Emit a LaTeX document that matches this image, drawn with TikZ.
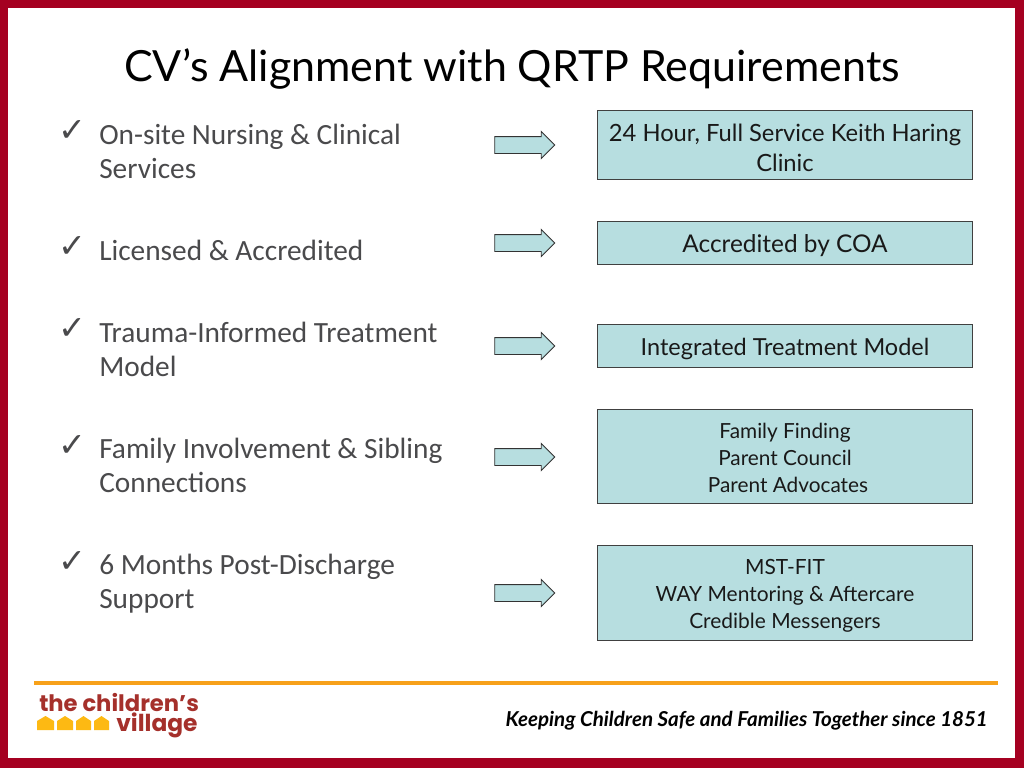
\documentclass[tikz,border=0pt]{standalone}
\usepackage{fontspec}
\setmainfont{Lato}
\newfontfamily\bulletfont{Carlito}
\newfontfamily\markfont{DejaVu Sans}
\newfontfamily\logofont{Poppins}
\usetikzlibrary{shapes.arrows}
\definecolor{framered}{HTML}{A50021}
\definecolor{boxteal}{HTML}{B7DEE0}
\definecolor{rulegold}{HTML}{F7A11A}
\definecolor{logobrown}{HTML}{A5302B}
\definecolor{logogold}{HTML}{FDB913}
\definecolor{bulletgrey}{HTML}{4A4A4C}
\tikzset{
  reqtext/.style={anchor=west,align=left,inner sep=0pt,text=bulletgrey,font=\bulletfont\fontsize{22}{25.6}\selectfont},
  tick/.style={anchor=center,inner sep=0pt,text=bulletgrey,font=\markfont\fontsize{25}{25}\selectfont},
  answerbox/.style={draw=black!75,line width=.7pt,fill=boxteal,minimum width=281.25pt,inner sep=0pt,align=center,text=black!90},
  blockarrow/.style={draw=black!80,line width=.7pt,fill=boxteal,single arrow,single arrow head extend=3.75pt,minimum width=19.5pt,minimum height=45pt,inner xsep=0pt,inner ysep=6pt,single arrow tip angle=90},
  house/.style={fill=logogold,draw=none}
}
\begin{document}
\begin{tikzpicture}[x=.75pt,y=-.75pt]
  \useasboundingbox (0,0) rectangle (1024,768);
  \fill[framered] (0,0) rectangle (1024,768);
  \fill[white] (8,8) rectangle (1015,758);
  \node[anchor=center,inner sep=0pt,font=\fontsize{32.2}{36}\selectfont] (title) at (512,69) {CV’s Alignment with QRTP Requirements};
  % left column
  \node[tick] (tick1) at (72,131) {✓};
  \node[tick] (tick2) at (72,247) {✓};
  \node[tick] (tick3) at (72,329) {✓};
  \node[tick] (tick4) at (72,446) {✓};
  \node[tick] (tick5) at (72,562) {✓};
  \node[reqtext] (req1) at (99,151) {On-site Nursing \& Clinical\\Services};
  \node[reqtext] (req2) at (99,250) {Licensed \& Accredited};
  \node[reqtext] (req3) at (99,349) {Trauma-Informed Treatment\\Model};
  \node[reqtext] (req4) at (99,465) {Family Involvement \& Sibling\\Connections};
  \node[reqtext] (req5) at (99,584) {6 Months Post-Discharge\\Support};
  % arrows
  \node[blockarrow] (arrow1) at (520.5,145) {};
  \node[blockarrow] (arrow2) at (520.5,243) {};
  \node[blockarrow] (arrow3) at (520.5,346) {};
  \node[blockarrow] (arrow4) at (520.5,457) {};
  \node[blockarrow] (arrow5) at (520.5,593) {};
  % right column
  \node[answerbox,minimum height=51.75pt,font=\fontsize{17.8}{22.5}\selectfont] (box1) at (785,145) {\rule{0pt}{17.5pt}24 Hour, Full Service Keith Haring\\Clinic};
  \node[answerbox,minimum height=32.25pt,font=\fontsize{18.3}{22}\selectfont,execute at begin node={\rule{0pt}{18pt}}] (box2) at (785,243) {Accredited by COA};
  \node[answerbox,minimum height=32.25pt,font=\fontsize{17.6}{22}\selectfont,execute at begin node={\rule{0pt}{18pt}}] (box3) at (785,346) {Integrated Treatment Model};
  \node[answerbox,minimum height=70.5pt,font=\fontsize{15.6}{20.4}\selectfont] (box4) at (785,456) {\rule{0pt}{14.3pt}Family Finding\\Parent Council\\\hspace*{4.5pt}Parent Advocates};
  \node[answerbox,minimum height=71.25pt,font=\fontsize{15.7}{20.4}\selectfont] (box5) at (785,593) {\rule{0pt}{15.5pt}MST-FIT\\WAY Mentoring \& Aftercare\\Credible Messengers};
  % footer
  \fill[rulegold] (34,681) rectangle (998,685);
  \node[anchor=east,inner sep=0pt,font=\itshape\bfseries\fontsize{15.4}{17}\selectfont] (motto) at (988,721) {Keeping Children Safe and Families Together since 1851};
  \node[anchor=west,inner sep=0pt,text=logobrown,font=\logofont\bfseries\fontsize{17}{17}\selectfont] (logotop) at (39,703) {the children’s};
  \node[anchor=west,inner sep=0pt,text=logobrown,font=\logofont\bfseries\fontsize{17.5}{17.5}\selectfont] (logobottom) at (116,725) {village};
  \foreach \hx/\hw in {37/17,57/16,76/15,94/15}
    \fill[house] (\hx,730) -- ++(0,-9) -- ++(\hw/2,-5) -- ++(\hw/2,5) -- ++(0,9) -- cycle;
\end{tikzpicture}
\end{document}
